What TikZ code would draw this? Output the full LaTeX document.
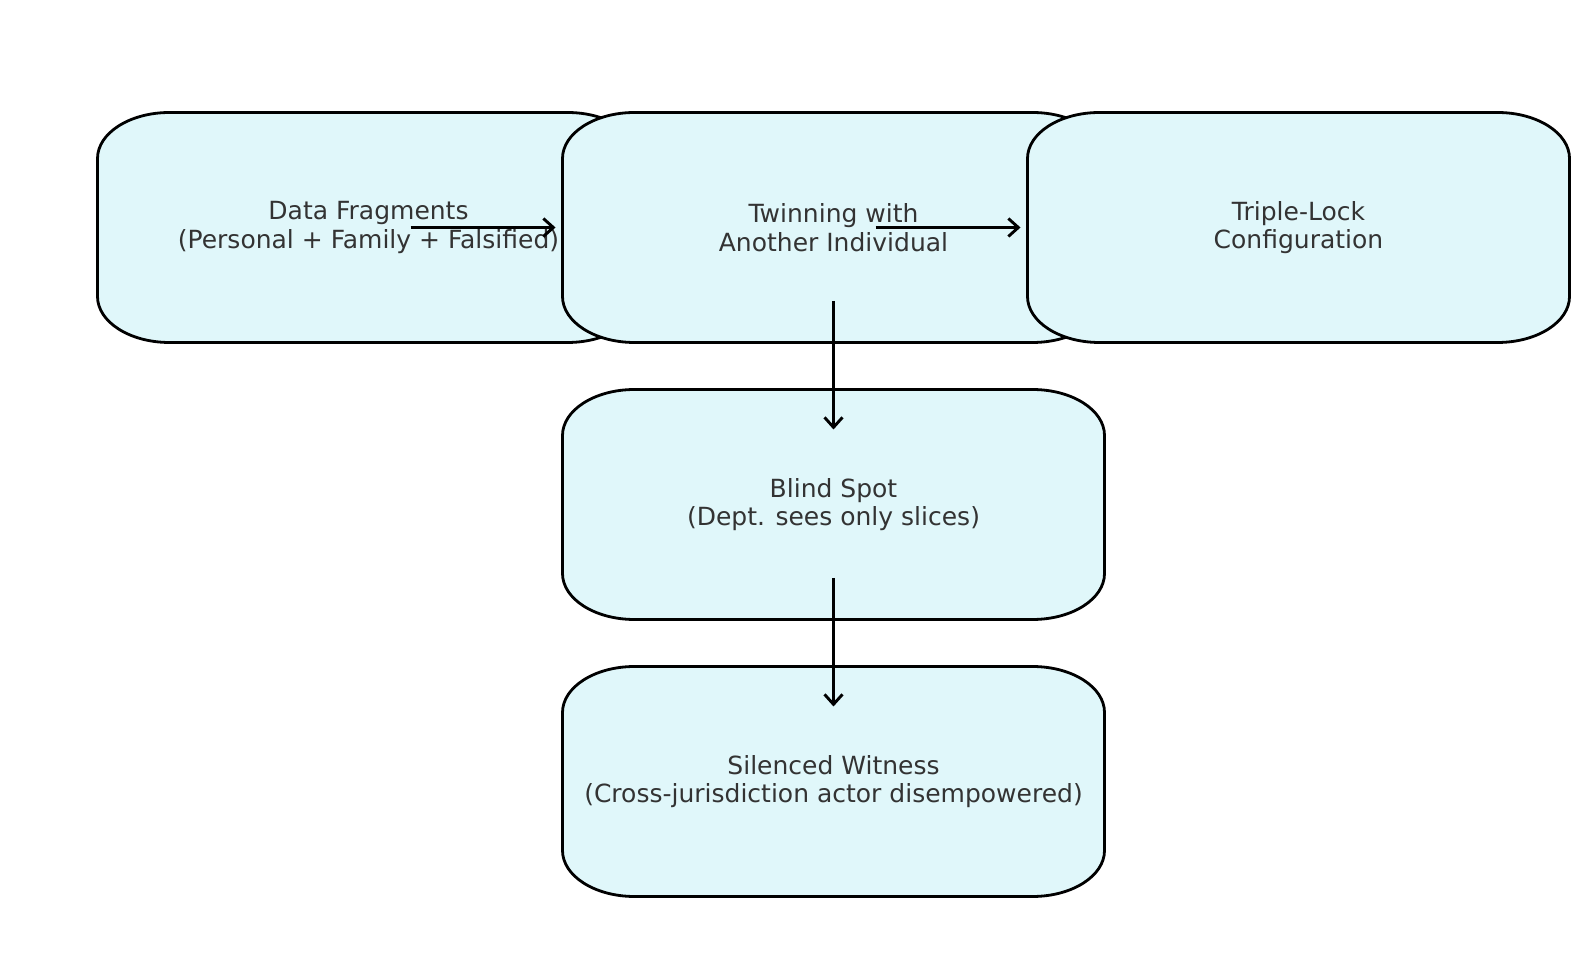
\documentclass[tikz,border=0pt]{standalone}
\usepackage{fontspec}
\setmainfont{DejaVu Sans}
\usetikzlibrary{arrows.meta,positioning,backgrounds}

\definecolor{boxfill}{HTML}{E0F7FA}
\definecolor{boxtext}{HTML}{333333}

\begin{document}
\begin{tikzpicture}[x=1pt,y=1pt,node distance=47pt,
                    flowbox/.style={minimum width=542pt,minimum height=230pt,
                      outer sep=0pt,align=center,text=boxtext,
                      font=\fontsize{25}{28.5}\selectfont},
                    boxline/.style={draw=black,fill=boxfill,line width=2.8pt},
                    corner/.style={x radius=72pt,y radius=46pt},
                    flow/.style={-{Straight Barb[length=10pt,width=18pt]},line width=2.9pt}]
  \useasboundingbox (0,0) rectangle (1589,964);

  \node[flowbox] (twin) at (833.5,736.5) {Twinning with\\Another Individual};
  \node[flowbox] (frag)  [left=-77pt of twin]  {Data Fragments\\(Personal + Family + Falsified)};
  \node[flowbox] (trip)  [right=-77pt of twin] {Triple-Lock\\Configuration};
  \node[flowbox] (blind) [below=of twin] {Blind Spot\\(Dept. sees only slices)};
  \node[flowbox] (sil)   [below=of blind] {Silenced Witness\\(Cross-jurisdiction actor disempowered)};

  % rounded boxes behind the texts
  \begin{scope}[on background layer]
    \foreach \n in {frag,twin,trip,blind,sil}
      \path[boxline] ([xshift=72pt]\n.south west) -- ([xshift=-72pt]\n.south east)
        arc[corner,start angle=-90,end angle=0] -- ([yshift=-46pt]\n.north east)
        arc[corner,start angle=0,end angle=90] -- ([xshift=72pt]\n.north west)
        arc[corner,start angle=90,end angle=180] -- ([yshift=46pt]\n.south west)
        arc[corner,start angle=180,end angle=270] -- cycle;
  \end{scope}

  \draw[flow] ([xshift=42pt]frag.center) -- ([xshift=-7pt]twin.west);
  \draw[flow] ([xshift=42pt]twin.center) -- ([xshift=-7pt]trip.west);
  \draw[flow] ([yshift=-73.5pt]twin.center) -- ([yshift=-40pt]blind.north);
  \draw[flow] ([yshift=-73.5pt]blind.center) -- ([yshift=-40pt]sil.north);
\end{tikzpicture}
\end{document}
